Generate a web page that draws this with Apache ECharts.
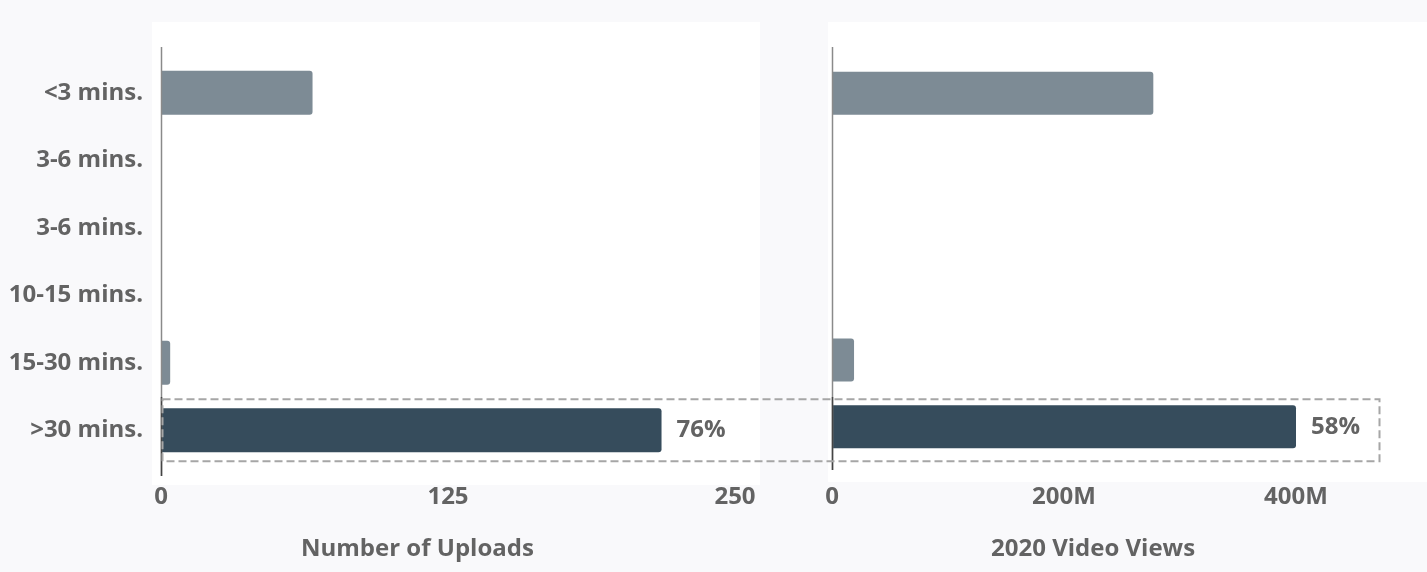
<!DOCTYPE html>
<html>
<head>
<meta charset="utf-8">
<script src="https://cdn.jsdelivr.net/npm/echarts@6/dist/echarts.min.js"></script>
<style>
  html, body { margin: 0; padding: 0; background: #f9f9fb; }
  #main { width: 1427px; height: 572px; }
</style>
</head>
<body>
<div id="main"></div>
<script>
// data
var categories = ['<3 mins.', '3-6 mins.', '3-6 mins.', '10-15 mins.', '15-30 mins.', '>30 mins.'];
var uploads = [66, 0, 0, 0, 4, 218];
var views = [277e6, 0, 0, 0, 19e6, 403e6];
var highlightIndex = 5;
var uploadTicks = { min: 0, max: 250, interval: 125 };
var viewTicks = { min: 0, max: 400e6, interval: 200e6 };

var lightColor = '#7d8b95';
var darkColor = '#364c5c';
var textColor = '#636363';
var fontFamily = '"Open Sans", "Noto Sans", sans-serif';

function sum(arr) {
  return arr.reduce(function (a, b) { return a + b; }, 0);
}

function barData(values) {
  var total = sum(values);
  return values.map(function (v, i) {
    var hi = i === highlightIndex;
    return {
      value: v,
      itemStyle: { color: hi ? darkColor : lightColor },
      label: {
        show: hi,
        position: 'right',
        distance: 15,
        formatter: Math.round(v / total * 100) + '%'
      }
    };
  });
}

var chartDom = document.getElementById('main');
var myChart = echarts.init(chartDom);

var labelStyle = { color: textColor, fontSize: 24, fontWeight: 'bold', fontFamily: fontFamily };

var option = {
  backgroundColor: '#f9f9fb',
  animation: false,
  textStyle: { fontFamily: fontFamily },
  grid: [
    { left: 161, top: 59, width: 574, height: 405 },
    { left: 832, top: 60, width: 464, height: 400 }
  ],
  xAxis: [
    {
      gridIndex: 0,
      type: 'value',
      min: uploadTicks.min,
      max: uploadTicks.max,
      interval: uploadTicks.interval,
      splitLine: { show: false },
      axisLine: { show: false },
      axisTick: { show: false },
      axisLabel: Object.assign({ margin: 21 }, labelStyle)
    },
    {
      gridIndex: 1,
      type: 'value',
      min: viewTicks.min,
      max: viewTicks.max,
      interval: viewTicks.interval,
      splitLine: { show: false },
      axisLine: { show: false },
      axisTick: { show: false },
      axisLabel: Object.assign({
        margin: 25,
        formatter: function (v) { return v === 0 ? '0' : (v / 1e6) + 'M'; }
      }, labelStyle)
    }
  ],
  yAxis: [
    {
      gridIndex: 0,
      type: 'category',
      inverse: true,
      data: categories,
      axisLine: { show: false },
      axisTick: { show: false },
      axisLabel: Object.assign({ margin: 18 }, labelStyle)
    },
    {
      gridIndex: 1,
      type: 'category',
      inverse: true,
      data: categories,
      axisLine: { show: false },
      axisTick: { show: false },
      axisLabel: { show: false }
    }
  ],
  series: [
    {
      name: 'Number of Uploads',
      type: 'bar',
      xAxisIndex: 0,
      yAxisIndex: 0,
      barWidth: 44,
      itemStyle: { borderRadius: [0, 3, 3, 0] },
      label: labelStyle,
      data: barData(uploads)
    },
    {
      name: '2020 Video Views',
      type: 'bar',
      xAxisIndex: 1,
      yAxisIndex: 1,
      barWidth: 43,
      itemStyle: { borderRadius: [0, 3, 3, 0] },
      label: labelStyle,
      data: barData(views)
    }
  ]
};

option && myChart.setOption(option);

// panels, axis lines and highlight box, placed from the axes
var x0Left = myChart.convertToPixel({ xAxisIndex: 0 }, 0);
var x0Right = myChart.convertToPixel({ xAxisIndex: 1 }, 0);
var xMaxRight = myChart.convertToPixel({ xAxisIndex: 1 }, viewTicks.max);
var xMaxLeft = myChart.convertToPixel({ xAxisIndex: 0 }, uploadTicks.max);
var yHi = myChart.convertToPixel({ yAxisIndex: 0 }, highlightIndex);

function axisLine(x, y1, y2, color) {
  return {
    type: 'line', z: 5,
    shape: { x1: Math.round(x) + 0.5, y1: y1, x2: Math.round(x) + 0.5, y2: y2 },
    style: { stroke: color, lineWidth: 1.5 }
  };
}

myChart.setOption({
  graphic: [
    { type: 'rect', z: -1, shape: { x: x0Left - 9, y: 22, width: xMaxLeft - x0Left + 34, height: 463 }, style: { fill: '#ffffff' } },
    { type: 'rect', z: -1, shape: { x: x0Right - 4, y: 22, width: 1427 - x0Right + 4, height: 460 }, style: { fill: '#ffffff' } },
    axisLine(x0Left, 47, 476, '#8a8a8a'),
    axisLine(x0Left, 397, 476, '#444444'),
    axisLine(x0Right, 47, 470, '#8a8a8a'),
    axisLine(x0Right, 397, 470, '#444444'),
    {
      type: 'rect', z: 6,
      shape: { x: x0Left + 1.5, y: yHi - 31, width: xMaxRight + 82 - x0Left, height: 62 },
      style: { fill: 'none', stroke: '#a6a6a6', lineWidth: 2, lineDash: [8, 4] }
    },
    {
      type: 'text', z: 6, left: 301, top: 537,
      style: { text: 'Number of Uploads', fill: textColor, font: 'bold 24px ' + fontFamily }
    },
    {
      type: 'text', z: 6, left: 991, top: 537,
      style: { text: '2020 Video Views', fill: textColor, font: 'bold 24px ' + fontFamily }
    }
  ]
});
</script>
</body>
</html>
